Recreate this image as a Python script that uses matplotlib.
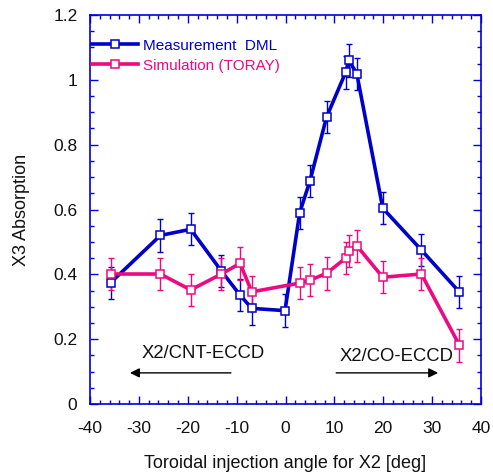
import numpy as np
import matplotlib
matplotlib.use('Agg')
import matplotlib.pyplot as plt
from matplotlib.ticker import MultipleLocator

plt.rcParams['font.family'] = ['Liberation Sans', 'DejaVu Sans']
plt.rcParams['axes.unicode_minus'] = False

# data
angle = [-35.8, -25.6, -19.4, -13.1, -9.3, -6.9, -0.1, 2.9, 5.0, 8.4, 12.3, 13.0, 14.6, 19.9, 27.8, 35.6]
meas = [0.374, 0.52, 0.539, 0.41, 0.336, 0.295, 0.288, 0.59, 0.688, 0.885, 1.023, 1.06, 1.018, 0.604, 0.475, 0.345]
meas_err = [0.05] * len(angle)

angle_sim = [-35.8, -25.6, -19.4, -13.1, -9.3, -6.9, 2.9, 5.0, 8.4, 12.3, 13.0, 14.6, 19.9, 27.8, 35.6]
sim = [0.401, 0.401, 0.352, 0.401, 0.434, 0.346, 0.373, 0.382, 0.403, 0.45, 0.472, 0.488, 0.391, 0.401, 0.181]
sim_err = [0.05] * len(angle_sim)

blue = '#0000CC'
pink = '#EC0A80'
axcol = '#0000DD'

fig = plt.figure(figsize=(4.93, 4.76), dpi=100)
ax = fig.add_axes([90 / 493, 1 - 404 / 476, 391 / 493, 389 / 476])

# lines with markers (legend entries)
ax.plot(angle, meas, color=blue, lw=2.6, marker='s', ms=6.2, mfc='white', mec=blue, mew=1.1,
        label='Measurement  DML', zorder=3)
ax.plot(angle_sim, sim, color=pink, lw=2.6, marker='s', ms=6.2, mfc='white', mec=pink, mew=1.1,
        label='Simulation (TORAY)', zorder=3)

# error bars
ax.errorbar(angle, meas, yerr=meas_err, fmt='none', ecolor=blue, elinewidth=1, capsize=2.5, capthick=1, zorder=2)
ax.errorbar(angle_sim, sim, yerr=sim_err, fmt='none', ecolor=pink, elinewidth=1, capsize=2.5, capthick=1, zorder=2)

ax.set_xlim(-40, 40)
ax.set_ylim(0, 1.2)
ax.xaxis.set_major_locator(MultipleLocator(10))
ax.xaxis.set_minor_locator(MultipleLocator(2))
ax.yaxis.set_minor_locator(MultipleLocator(0.05))
ax.set_yticks([0, 0.2, 0.4, 0.6, 0.8, 1.0, 1.2])
ax.set_yticklabels(['0', '0.2', '0.4', '0.6', '0.8', '1', '1.2'])

ax.tick_params(which='both', direction='in', top=True, right=True, colors=axcol, labelcolor='#111111',
               labelsize=12.5, width=1)
ax.tick_params(which='major', length=5.5)
ax.tick_params(axis='x', which='major', pad=12)
ax.tick_params(axis='y', which='major', pad=9)
ax.tick_params(which='minor', length=3)
for s in ax.spines.values():
    s.set_color(axcol)
    s.set_linewidth(1.2)

ax.set_xlabel('Toroidal injection angle for X2 [deg]', fontsize=13, color='#111111', labelpad=14)
ax.set_ylabel('X3 Absorption', fontsize=13, color='#111111', labelpad=17)

# annotations
ax.text(-16.8, 0.157, 'X2/CNT-ECCD', fontsize=13.3, ha='center', va='center', color='#111111')
ax.annotate('', xy=(-32.4, 0.096), xytext=(-10.6, 0.096),
            arrowprops=dict(arrowstyle='-|>', color='black', lw=1, mutation_scale=14))
ax.text(22.7, 0.145, 'X2/CO-ECCD', fontsize=13.3, ha='center', va='center', color='#111111')
ax.annotate('', xy=(31.8, 0.096), xytext=(9.8, 0.096),
            arrowprops=dict(arrowstyle='-|>', color='black', lw=1, mutation_scale=14))

leg = ax.legend(loc='upper left', bbox_to_anchor=(-0.01, 0.955), frameon=False, fontsize=11,
                handlelength=3.0, handletextpad=0.35, labelspacing=0.4, borderaxespad=0,
                labelcolor='linecolor')

fig.savefig('out.png', dpi=100)
